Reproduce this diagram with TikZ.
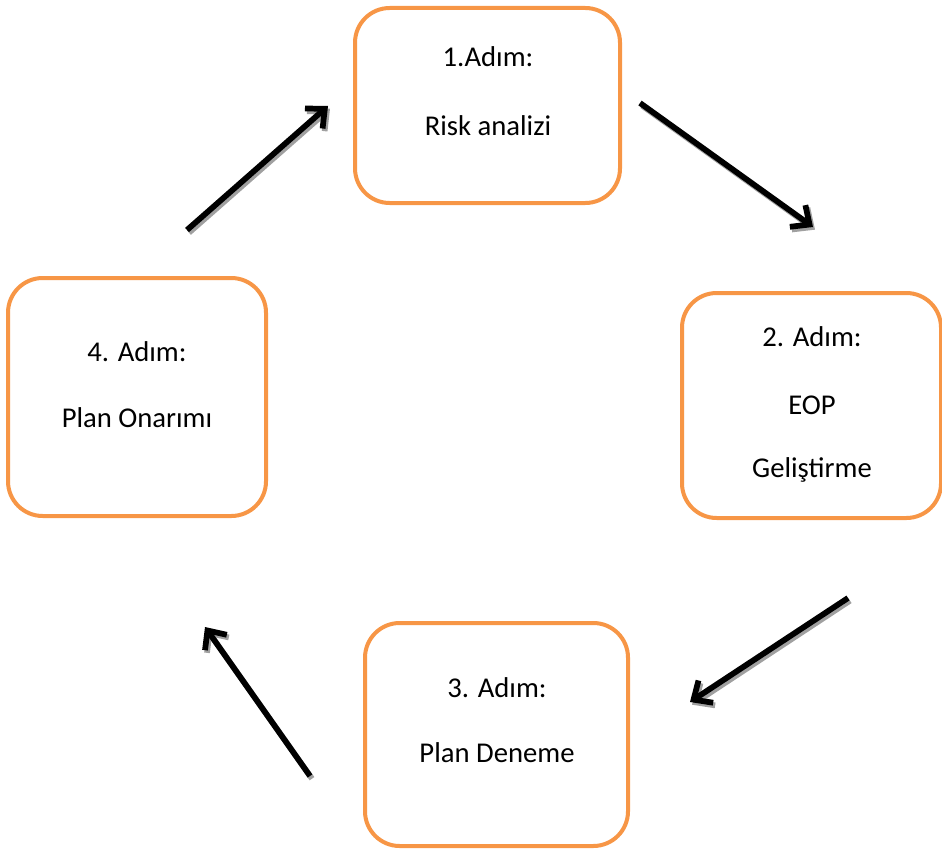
\documentclass[tikz,border=0pt]{standalone}
\usepackage{fontspec}
\setmainfont{Carlito}
\usetikzlibrary{arrows.meta}
\definecolor{boxorange}{HTML}{F79646}
\definecolor{shadowgray}{HTML}{A0A0A0}
\begin{document}
\begin{tikzpicture}[x=0.75pt,y=-0.75pt,
  stepbox/.style={draw=boxorange,line width=3pt,rounded corners=26pt,fill=white},
  label/.style={font=\fontsize{21.5}{25}\selectfont,anchor=center,inner sep=0pt},
  flow/.style={line width=4.3pt,-{Straight Barb[length=11pt,width=20pt,line width=4.3pt]}},
  flowshadow/.style={flow,draw=shadowgray}]
\useasboundingbox (0,0) rectangle (942,849);
% step boxes
\draw[stepbox] (355,8) rectangle (620,203);
\draw[stepbox] (682,293) rectangle (941,518);
\draw[stepbox] (365,623) rectangle (628,846);
\draw[stepbox] (8,278) rectangle (266,516);
% box texts
\node[label] (s1a) at (488,57) {1.Adım:};
\node[label] (s1b) at (488,126) {Risk analizi};
\node[label] (s2a) at (812,337) {2. Adım:};
\node[label] (s2b) at (812,405) {EOP};
\node[label] (s2c) at (812,470) {Geliştirme};
\node[label] (s3a) at (497,688) {3. Adım:};
\node[label] (s3b) at (497,753) {Plan Deneme};
\node[label] (s4a) at (137,352) {4. Adım:};
\node[label] (s4b) at (137,418) {Plan Onarımı};
% arrow end points
\coordinate (a1s) at (187,230); \coordinate (a1e) at (328,106);
\coordinate (a2s) at (640,103); \coordinate (a2e) at (813,227);
\coordinate (a3s) at (848,598); \coordinate (a3e) at (690,702);
\coordinate (a4s) at (310,776); \coordinate (a4e) at (205,627);
% shadows
\foreach \s/\e in {a1s/a1e,a2s/a2e,a3s/a3e,a4s/a4e}
  \draw[flowshadow,transform canvas={shift={(1.5pt,-2pt)}}] (\s) -- (\e);
% arrows
\foreach \s/\e in {a1s/a1e,a2s/a2e,a3s/a3e,a4s/a4e}
  \draw[flow] (\s) -- (\e);
\end{tikzpicture}
\end{document}
